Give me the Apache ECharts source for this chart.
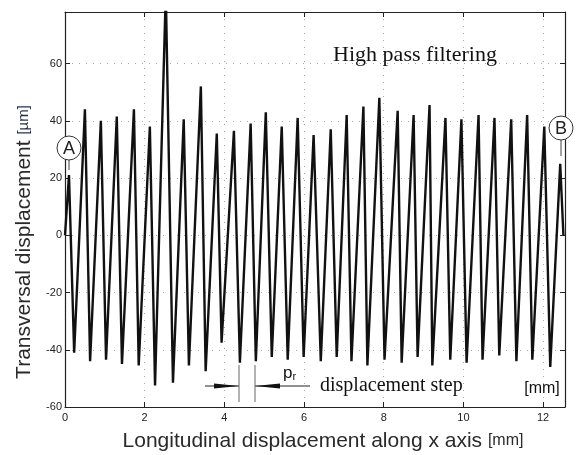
<!DOCTYPE html>
<html>
<head>
<meta charset="utf-8">
<title>High pass filtering</title>
<script src="https://cdn.jsdelivr.net/npm/echarts@6/dist/echarts.min.js"></script>
<style>
html, body { margin: 0; padding: 0; background: #fff; }
#chart { width: 576px; height: 455px; }
</style>
</head>
<body>
<div id="chart"></div>
<script>
// turning points of the filtered profile (x in mm, y in um)
var xMm = [0.00, 0.10, 0.23, 0.50, 0.63, 0.90, 1.03, 1.30, 1.43, 1.73, 1.85, 2.13, 2.26, 2.53, 2.71,
           2.98, 3.11, 3.41, 3.53, 3.81, 3.93, 4.24, 4.39, 4.66, 4.79, 5.04, 5.19, 5.44, 5.59, 5.84,
           5.99, 6.24, 6.42, 6.67, 6.82, 7.07, 7.19, 7.49, 7.59, 7.89, 8.02, 8.35, 8.45, 8.75, 8.85,
           9.15, 9.22, 9.55, 9.67, 9.95, 10.08, 10.38, 10.48, 10.78, 10.90, 11.20, 11.33, 11.60, 11.73,
           12.03, 12.18, 12.43, 12.51];
var yUm = [0, 21, -41, 44, -44, 40, -43.5, 41.5, -45, 44, -45.5, 38, -52.5, 85, -51.5,
           40.5, -45.5, 52, -47.5, 35.5, -37.5, 36.5, -44.5, 39, -44, 43, -42.5, 38, -43.5, 41,
           -42.5, 35, -44, 37, -42.5, 42, -44, 45, -45.5, 48, -43.5, 43.5, -44.5, 42, -42.5,
           45.5, -45.5, 41, -43.5, 40.5, -44.5, 42, -43.5, 41, -42, 40.5, -44, 42, -43.5,
           38, -46, 25, 0];

var xMin = 0, xMax = 12.55, xStep = 2;
var yMin = -60, yMax = 78, yStep = 20;

var points = [];
for (var i = 0; i < xMm.length; i++) {
	points.push([xMm[i], yUm[i]]);
}

var chart = echarts.init(document.getElementById('chart'));

var gridDots = { show: true, lineStyle: { color: '#a8a8a8', width: 1, type: [1, 6] } };
var frame = { show: true, onZero: false, lineStyle: { color: '#222', width: 1.2 } };
var tickIn = { show: true, inside: true, length: 5, lineStyle: { color: '#222' } };
var lbl = { fontSize: 11, color: '#222', fontFamily: 'Liberation Sans, Arial', showMaxLabel: false };

var option = {
	animation: false,
	backgroundColor: '#fff',
	grid: { left: 65, right: 11, top: 12, bottom: 48 },
	xAxis: [{
		type: 'value', min: xMin, max: xMax, interval: xStep,
		axisLine: frame, axisTick: tickIn, splitLine: gridDots,
		axisLabel: Object.assign({ margin: 5 }, lbl)
	}, {
		type: 'value', position: 'top', min: xMin, max: xMax, interval: xStep,
		axisLine: frame, axisTick: tickIn, splitLine: { show: false }, axisLabel: { show: false }
	}],
	yAxis: [{
		type: 'value', min: yMin, max: yMax, interval: yStep,
		axisLine: frame, axisTick: tickIn, splitLine: gridDots,
		axisLabel: Object.assign({ margin: 3 }, lbl)
	}, {
		type: 'value', position: 'right', min: yMin, max: yMax, interval: yStep,
		axisLine: frame, axisTick: tickIn, splitLine: { show: false }, axisLabel: { show: false }
	}],
	series: [{
		type: 'line',
		data: points,
		symbol: 'none',
		clip: true,
		lineStyle: { color: '#111', width: 2.4 },
		z: 3
	}],
	graphic: [
		// axis titles
		{ type: 'text', x: 24, y: 242, rotation: Math.PI / 2, z: 50,
		  style: { text: '{a|Transversal displacement }{b|[µm]}', align: 'center', verticalAlign: 'middle',
		    rich: { a: { fontSize: 21, fontFamily: 'Liberation Sans, Arial', fill: '#2a2a2a' },
		            b: { fontSize: 15, fontFamily: 'Liberation Sans, Arial', fill: '#1f2d4d' } } } },
		{ type: 'text', x: 323, y: 441, z: 50,
		  style: { text: '{a|Longitudinal displacement along x axis }{b|[mm]}', align: 'center', verticalAlign: 'middle',
		    rich: { a: { fontSize: 21, fontFamily: 'Liberation Sans, Arial', fill: '#2a2a2a' },
		            b: { fontSize: 16, fontFamily: 'Liberation Sans, Arial', fill: '#2a2a2a' } } } },
		// labels inside the plot
		{ type: 'text', x: 415, y: 55, z: 50,
		  style: { text: 'High pass filtering', font: '22px "Liberation Serif"', fill: '#111', align: 'center', verticalAlign: 'middle' } },
		{ type: 'text', x: 320, y: 386, z: 50,
		  style: { text: 'displacement step', font: '20px "Liberation Serif"', fill: '#111', align: 'left', verticalAlign: 'middle' } },
		{ type: 'text', x: 542, y: 389, z: 50,
		  style: { text: '[mm]', font: '16px "Liberation Sans"', fill: '#111', align: 'center', verticalAlign: 'middle' } },
		{ type: 'text', x: 283, y: 373, z: 50,
		  style: { text: '{p|p}{r|r}', verticalAlign: 'middle',
		    rich: { p: { fontSize: 17, fontFamily: 'Liberation Sans', fill: '#111' },
		            r: { fontSize: 11, fontFamily: 'Liberation Sans', fill: '#111', padding: [8, 0, 0, 0] } } } },
		// pitch arrows
		{ type: 'line', z: 50, shape: { x1: 205, y1: 386, x2: 239, y2: 386 }, style: { stroke: '#222', lineWidth: 1 } },
		{ type: 'polygon', z: 50, shape: { points: [[214, 383.5], [239, 386], [214, 388.5]] }, style: { fill: '#111' } },
		{ type: 'line', z: 50, shape: { x1: 255, y1: 386, x2: 310, y2: 386 }, style: { stroke: '#222', lineWidth: 1 } },
		{ type: 'polygon', z: 50, shape: { points: [[280, 383.5], [255, 386], [280, 388.5]] }, style: { fill: '#111' } },
		{ type: 'line', z: 50, shape: { x1: 239, y1: 365, x2: 239, y2: 402 }, style: { stroke: '#666', lineWidth: 1 } },
		{ type: 'line', z: 50, shape: { x1: 255, y1: 365, x2: 255, y2: 402 }, style: { stroke: '#666', lineWidth: 1 } },
		// end markers A and B
		{ type: 'line', z: 50, shape: { x1: 69, y1: 160, x2: 69, y2: 170 }, style: { stroke: '#444', lineWidth: 1 } },
		{ type: 'circle', z: 50, shape: { cx: 69, cy: 148, r: 12 }, style: { fill: '#fff', stroke: '#333', lineWidth: 1 } },
		{ type: 'text', x: 69, y: 149, z: 51,
		  style: { text: 'A', font: '18px "Liberation Sans"', fill: '#222', align: 'center', verticalAlign: 'middle' } },
		{ type: 'line', z: 50, shape: { x1: 561, y1: 140, x2: 561, y2: 156 }, style: { stroke: '#444', lineWidth: 1 } },
		{ type: 'circle', z: 50, shape: { cx: 561, cy: 128, r: 12 }, style: { fill: '#fff', stroke: '#333', lineWidth: 1 } },
		{ type: 'text', x: 561, y: 129, z: 51,
		  style: { text: 'B', font: '18px "Liberation Sans"', fill: '#222', align: 'center', verticalAlign: 'middle' } }
	]
};

chart.setOption(option);
</script>
</body>
</html>
